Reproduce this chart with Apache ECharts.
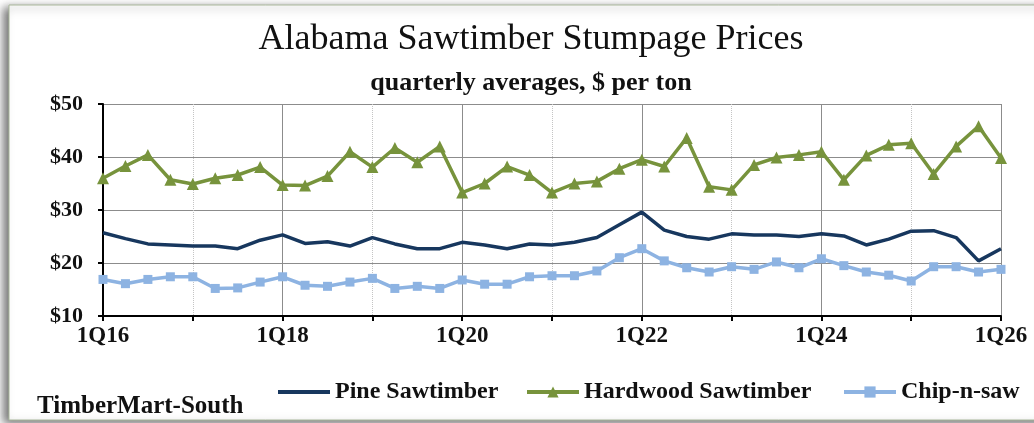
<!DOCTYPE html>
<html>
<head>
<meta charset="utf-8">
<script src="https://cdn.jsdelivr.net/npm/echarts@6/dist/echarts.min.js"></script>
<style>
html,body{margin:0;padding:0;background:#fff;}
#chart{width:1034px;height:423px;}
</style>
</head>
<body>
<div id="chart"></div>
<script>
const categories = ["1Q16","2Q16","3Q16","4Q16","1Q17","2Q17","3Q17","4Q17",
  "1Q18","2Q18","3Q18","4Q18","1Q19","2Q19","3Q19","4Q19",
  "1Q20","2Q20","3Q20","4Q20","1Q21","2Q21","3Q21","4Q21",
  "1Q22","2Q22","3Q22","4Q22","1Q23","2Q23","3Q23","4Q23",
  "1Q24","2Q24","3Q24","4Q24","1Q25","2Q25","3Q25","4Q25","1Q26"];
const pineSawtimber = [25.7,24.6,23.6,23.4,23.2,23.2,22.7,24.3,25.3,23.7,24.0,23.2,24.8,23.6,22.7,22.7,
  23.9,23.4,22.7,23.6,23.4,23.9,24.8,27.2,29.6,26.2,25.0,24.5,25.5,25.3,25.3,25.0,
  25.5,25.1,23.4,24.5,26.0,26.1,24.8,20.4,22.7];
const hardwoodSawtimber = [36.0,38.3,40.4,35.7,34.9,36.0,36.6,38.1,34.7,34.6,36.4,41.0,38.1,41.7,39.0,42.0,
  33.3,35.0,38.2,36.6,33.3,35.0,35.4,37.8,39.5,38.2,43.6,34.4,33.8,38.5,39.9,40.4,
  41.0,35.7,40.3,42.3,42.6,36.8,42.0,45.8,39.8];
const chipNSaw = [16.9,16.1,16.9,17.4,17.4,15.2,15.3,16.4,17.4,15.8,15.6,16.4,17.1,15.2,15.6,15.2,
  16.8,16.0,16.0,17.4,17.6,17.6,18.5,21.0,22.7,20.4,19.1,18.3,19.3,18.8,20.2,19.1,
  20.8,19.5,18.3,17.7,16.6,19.3,19.3,18.3,18.8];
const yTicks = {min:10, max:50, interval:10};

const FONT = '"Liberation Serif", "DejaVu Serif", serif';
const legendText = {fontFamily:FONT, fontSize:24, fontWeight:'bold', color:'#111'};
const chart = echarts.init(document.getElementById('chart'), null, {renderer:'canvas'});
chart.setOption({
  animation:false,
  backgroundColor:'#fff',
  textStyle:{fontFamily:FONT, color:'#111'},
  graphic:[
    {type:'rect', z:-10, shape:{x:9,y:5,width:1040,height:415},
     style:{fill:'#fff', stroke:'#a9b79a', lineWidth:1,
       shadowBlur:9, shadowColor:'rgba(0,0,0,0.55)', shadowOffsetX:-5, shadowOffsetY:3}},
    {type:'text', x:531, y:22, z:10,
     style:{text:'Alabama Sawtimber Stumpage Prices', font:'normal 36px '+FONT, fill:'#111',
       textAlign:'center', textVerticalAlign:'top'}},
    {type:'text', x:531, y:70, z:10,
     style:{text:'quarterly averages, $ per ton', font:'bold 26px '+FONT, fill:'#111',
       textAlign:'center', textVerticalAlign:'top'}},
    {type:'text', left:37, top:394, z:10,
     style:{text:'TimberMart-South', font:'bold 25px '+FONT, fill:'#111'}}
  ],
  legend:[
    {left:273, top:375, itemWidth:52, itemHeight:4, textStyle:legendText,
     data:[{name:'Pine Sawtimber', icon:'path://M0,0H52V4H0Z'}]},
    {left:520, top:375, itemWidth:52, itemHeight:14, data:['Hardwood Sawtimber'], textStyle:legendText,
     lineStyle:{width:4}},
    {left:837, top:375, itemWidth:52, itemHeight:14, data:['Chip-n-saw'], textStyle:legendText,
     lineStyle:{width:4}}
  ],
  grid:{left:103, right:33, top:104, bottom:107, containLabel:false},
  xAxis:[
    {type:'category', data:categories, boundaryGap:false,
     axisLine:{show:true, lineStyle:{color:'#000', width:2}},
     axisTick:{show:true, interval:3, length:5, lineStyle:{color:'#000', width:2}},
     axisLabel:{interval:7, margin:9, fontFamily:FONT, fontSize:23, fontWeight:'bold', color:'#111'},
     splitLine:{show:true, interval:3, lineStyle:{color:'#c4c4c4', width:1, type:'dotted'}}
    },
    {type:'category', data:categories, boundaryGap:false, position:'bottom',
     axisLine:{show:false}, axisTick:{show:false}, axisLabel:{show:false},
     splitLine:{show:true, interval:7, lineStyle:{color:'#8c8c8c', width:1}}
    }
  ],
  yAxis:{type:'value', min:yTicks.min, max:yTicks.max, interval:yTicks.interval,
    axisLine:{show:true, lineStyle:{color:'#000', width:2}},
    axisTick:{show:true, length:5, lineStyle:{color:'#000', width:2}},
    axisLabel:{formatter:v=>'$'+v, margin:20, fontFamily:FONT, fontSize:22, fontWeight:'bold', color:'#111'},
    splitLine:{show:true, lineStyle:{color:'#8c8c8c', width:1}}
  },
  series:[
    {name:'Pine Sawtimber', type:'line', data:pineSawtimber, symbol:'none',
     lineStyle:{color:'#17375E', width:3.5}, itemStyle:{color:'#17375E'}, z:3},
    {name:'Hardwood Sawtimber', type:'line', data:hardwoodSawtimber, symbol:'triangle', symbolSize:12,
     lineStyle:{color:'#77933C', width:3.5}, itemStyle:{color:'#77933C'}, z:3},
    {name:'Chip-n-saw', type:'line', data:chipNSaw, symbol:'rect', symbolSize:9,
     lineStyle:{color:'#8DB3E2', width:3.5}, itemStyle:{color:'#8DB3E2'}, z:3}
  ]
});
</script>
</body>
</html>
